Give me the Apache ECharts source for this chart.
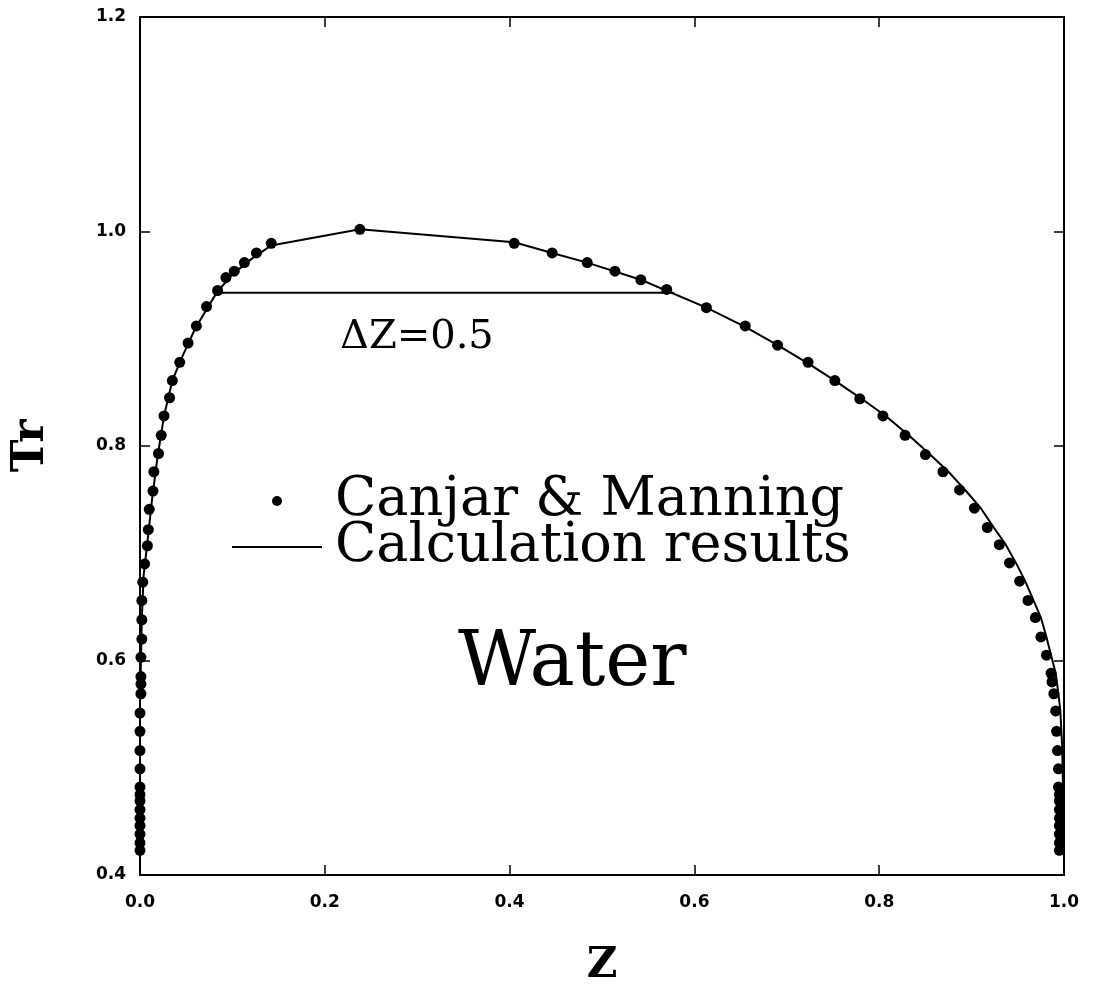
<!DOCTYPE html>
<html>
<head>
<meta charset="utf-8">
<script src="https://cdn.jsdelivr.net/npm/echarts@6/dist/echarts.min.js"></script>
<style>
html,body{margin:0;padding:0;background:#fff;}
#chart{width:1096px;height:992px;}
</style>
</head>
<body>
<div id="chart"></div>
<script>
// ---- Data (Z = compressibility factor, Tr = reduced temperature)
const xTickLabels = ['0.0', '0.2', '0.4', '0.6', '0.8', '1.0'];
const yTickLabels = ['0.4', '0.6', '0.8', '1.0', '1.2'];

// Canjar & Manning points: saturated liquid branch (Z near 0)
const liquidZ  = [0.000,0.000,0.000,0.000,0.000,0.000,0.000,0.000,0.000,0.000,0.000,0.000,0.000,0.001,0.001,0.001,0.001,0.002,0.002,0.002,0.003,0.005,0.008,0.009,0.010,0.014,0.015,0.020,0.023,0.026,0.032,0.035,0.043,0.052,0.061,0.072,0.084,0.093,0.102,0.113,0.126,0.142];
const liquidTr = [0.423,0.430,0.438,0.446,0.453,0.461,0.469,0.475,0.482,0.499,0.516,0.534,0.551,0.569,0.578,0.585,0.603,0.620,0.638,0.656,0.673,0.690,0.707,0.722,0.741,0.758,0.776,0.793,0.810,0.828,0.845,0.861,0.878,0.896,0.912,0.930,0.945,0.957,0.963,0.971,0.980,0.989];
// critical point
const peakZ  = [0.238];
const peakTr = [1.002];
// saturated vapour branch (Z near 1)
const vaporZ  = [0.405,0.446,0.484,0.514,0.542,0.570,0.613,0.655,0.690,0.723,0.752,0.779,0.804,0.828,0.850,0.869,0.887,0.903,0.917,0.930,0.941,0.952,0.961,0.969,0.975,0.981,0.986,0.987,0.989,0.991,0.992,0.993,0.994,0.994,0.995,0.995,0.995,0.995,0.995,0.995,0.995,0.995];
const vaporTr = [0.989,0.980,0.971,0.963,0.955,0.946,0.929,0.912,0.894,0.878,0.861,0.844,0.828,0.810,0.792,0.776,0.759,0.742,0.724,0.708,0.691,0.674,0.656,0.640,0.622,0.605,0.588,0.580,0.569,0.553,0.534,0.516,0.499,0.482,0.475,0.469,0.461,0.453,0.446,0.438,0.430,0.423];

// Calculation results (curve)
const calcZ  = [0.000,0.000,0.002,0.004,0.008,0.013,0.019,0.026,0.035,0.045,0.060,0.083,0.100,0.120,0.142,0.238,0.405,0.446,0.484,0.542,0.613,0.655,0.690,0.723,0.752,0.781,0.807,0.832,0.855,0.875,0.893,0.910,0.924,0.937,0.948,0.958,0.967,0.975,0.981,0.986,0.991,0.994,0.996,0.998,0.999,1.000];
const calcTr = [0.420,0.560,0.640,0.680,0.710,0.750,0.790,0.828,0.861,0.882,0.910,0.943,0.960,0.974,0.987,1.002,0.990,0.980,0.971,0.955,0.929,0.911,0.894,0.877,0.861,0.844,0.828,0.810,0.792,0.776,0.759,0.742,0.724,0.708,0.691,0.674,0.656,0.640,0.622,0.605,0.588,0.569,0.553,0.520,0.480,0.420];

// Horizontal segment marking ΔZ = 0.5
const deltaZ  = [0.083, 0.578];
const deltaTr = [0.943, 0.943];

const seriesNames = ['Canjar & Manning', 'Calculation results'];
const annotationDelta = 'ΔZ=0.5';
const annotationFluid = 'Water';

// ---- Build series data
const zip = (a, b) => a.map((v, i) => [v, b[i]]);
const dots = zip(liquidZ, liquidTr).concat(zip(peakZ, peakTr), zip(vaporZ, vaporTr));
const calc = zip(calcZ, calcTr);
const dz = zip(deltaZ, deltaTr);

const chart = echarts.init(document.getElementById('chart'), null, {renderer: 'canvas'});
const black = '#000';
const axisCommon = {
  type: 'value',
  axisLine: {show: true, onZero: false, lineStyle: {color: black, width: 2}},
  axisTick: {show: true, inside: true, length: 10, lineStyle: {color: black, width: 1.5}},
  splitLine: {show: false}
};

chart.setOption({
  backgroundColor: '#fff',
  animation: false,
  grid: {left: 140, right: 32, top: 17, bottom: 107, containLabel: false},
  xAxis: [
    Object.assign({}, axisCommon, {
      min: 0, max: 1, interval: 0.2, position: 'bottom',
      axisLabel: {
        margin: 19, color: black, fontFamily: 'DejaVu Sans', fontWeight: 'bold', fontSize: 17,
        formatter: v => xTickLabels[Math.round(v / 0.2)]
      },
      name: 'Z', nameLocation: 'middle', nameGap: 70,
      nameTextStyle: {fontFamily: 'DejaVu Serif', fontWeight: 'bold', fontSize: 42, color: black}
    }),
    Object.assign({}, axisCommon, {
      min: 0, max: 1, interval: 0.2, position: 'top', axisLabel: {show: false}
    })
  ],
  yAxis: [
    Object.assign({}, axisCommon, {
      min: 0.4, max: 1.2, interval: 0.2, position: 'left',
      axisLabel: {
        margin: 14, color: black, fontFamily: 'DejaVu Sans', fontWeight: 'bold', fontSize: 17,
        formatter: v => yTickLabels[Math.round((v - 0.4) / 0.2)]
      },
      name: 'Tr', nameLocation: 'middle', nameGap: 86, nameRotate: 90,
      nameTextStyle: {fontFamily: 'DejaVu Serif', fontWeight: 'bold', fontSize: 44, color: black}
    }),
    Object.assign({}, axisCommon, {
      min: 0.4, max: 1.2, interval: 0.2, position: 'right', axisLabel: {show: false}
    })
  ],
  legend: {
    orient: 'vertical', left: 232, top: 474, padding: 0,
    itemWidth: 90, itemHeight: 10, itemGap: -8,
    data: [
      {name: seriesNames[0], icon: 'circle'},
      {name: seriesNames[1], icon: 'path://M0,0H90V2H0Z'}
    ],
    textStyle: {
      fontFamily: 'DejaVu Serif', fontSize: 54, color: black,
      lineHeight: 24, padding: [0, 0, 18, 8]
    }
  },
  graphic: [
    {type: 'text', x: 340, y: 338, style: {text: annotationDelta, font: '40px "DejaVu Serif"', fill: black, align: 'left', verticalAlign: 'middle'}},
    {type: 'text', x: 458, y: 665, style: {text: annotationFluid, font: '76px "DejaVu Serif"', fill: black, align: 'left', verticalAlign: 'middle'}}
  ],
  series: [
    {
      name: seriesNames[0], type: 'scatter', data: dots,
      symbol: 'circle', symbolSize: 11,
      itemStyle: {color: black, opacity: 1}, z: 3
    },
    {
      name: seriesNames[1], type: 'line', data: calc,
      symbol: 'none', showSymbol: false,
      lineStyle: {color: black, width: 2}, itemStyle: {color: black}, z: 2
    },
    {
      name: 'ΔZ', type: 'line', data: dz,
      symbol: 'none', showSymbol: false,
      lineStyle: {color: black, width: 2}, z: 2
    }
  ]
});
</script>
</body>
</html>
